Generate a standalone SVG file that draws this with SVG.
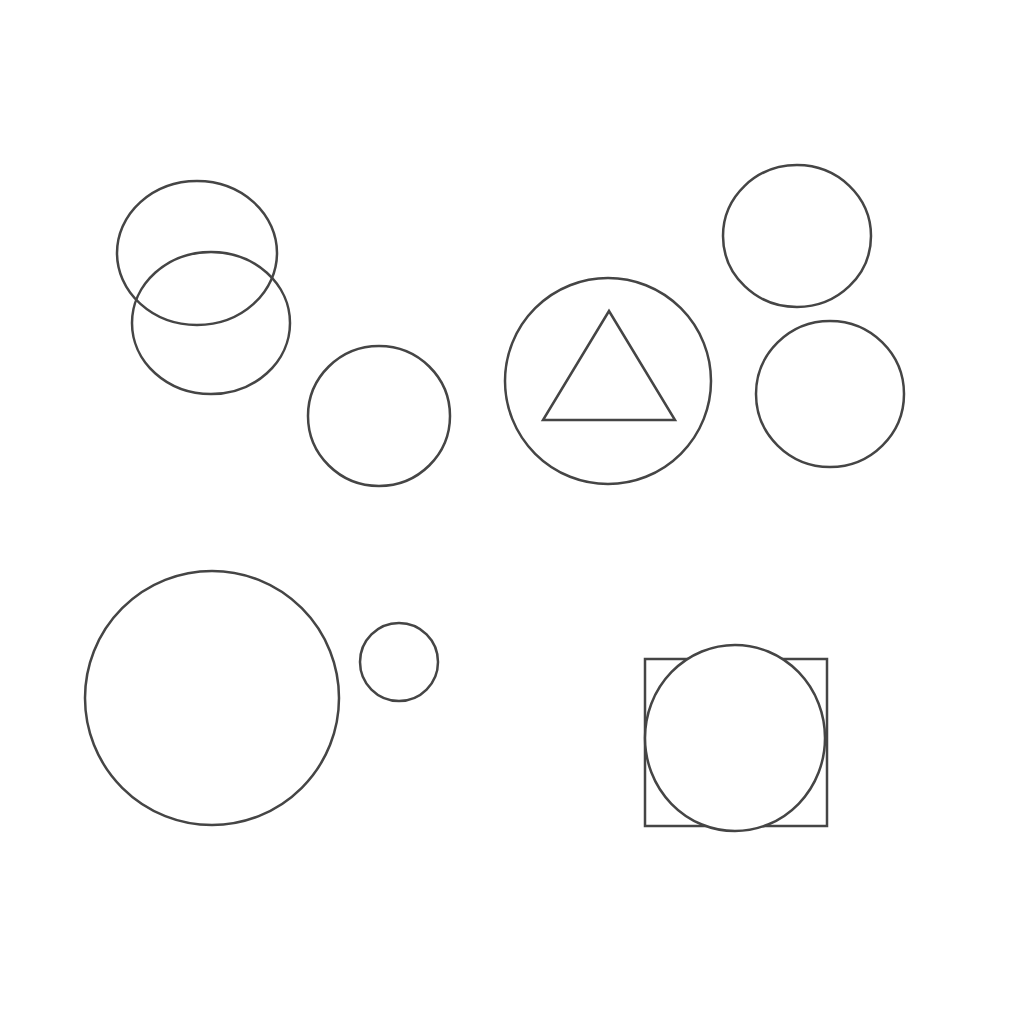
<svg xmlns="http://www.w3.org/2000/svg" width="1024" height="1024" viewBox="0 0 1024 1024">
<style>
.s{fill:none;stroke:#454545;stroke-width:2.5}
.w{fill:#fff;stroke:#454545;stroke-width:2.5}
</style>
<rect width="1024" height="1024" fill="#fff"/>
<g id="pair">
<ellipse class="s" cx="197" cy="253" rx="80" ry="72"/>
<ellipse class="s" cx="211" cy="323" rx="79" ry="71"/>
</g>
<g id="c-mid"><ellipse class="s" cx="379" cy="416" rx="71" ry="70"/></g>
<g id="c-tri">
<circle class="s" cx="608" cy="381" r="103"/>
<polygon class="s" points="609,311 543,420 675,420"/>
</g>
<g id="c-tr"><ellipse class="s" cx="797" cy="236" rx="74" ry="71"/></g>
<g id="c-r"><ellipse class="s" cx="830" cy="394" rx="74" ry="73"/></g>
<g id="c-big"><circle class="s" cx="212" cy="698" r="127"/></g>
<g id="c-small"><ellipse class="s" cx="399" cy="662" rx="39" ry="39"/></g>
<g id="sq">
<rect class="s" x="645" y="659" width="182" height="167"/>
<ellipse class="w" cx="735" cy="738" rx="90" ry="93"/>
</g>
<g id="connectors"/>
</svg>
